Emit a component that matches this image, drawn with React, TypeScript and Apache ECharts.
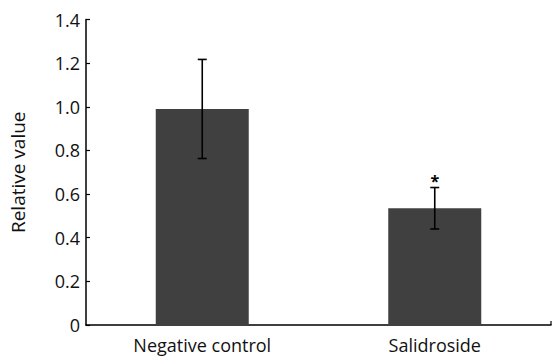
import React, { useEffect, useRef } from "react";
import * as echarts from "echarts";

const categories = ["Negative control", "Salidroside"];
const means = [0.99, 0.535];
const errors = [0.227, 0.095];
const significance = ["", "*"];
const yTicks = { min: 0, max: 1.4, interval: 0.2 };

export default function App() {
  const ref = useRef<HTMLDivElement>(null);
  useEffect(() => {
    if (!ref.current) return;
    const chart = echarts.init(ref.current, null, { renderer: "svg" });
    const W = 559, H = 359;
    const grid = { left: 85, right: 8, top: 19.5, bottom: 34 };
    const font = "'Open Sans', sans-serif";
    const errData = categories.map((c, i) => [i, means[i] - errors[i], means[i] + errors[i], significance[i]]);
    chart.setOption({
      animation: false,
      backgroundColor: "#fff",
      grid: { ...grid, containLabel: false },
      xAxis: {
        type: "category",
        data: categories,
        axisLine: { lineStyle: { color: "#000", width: 1.5 } },
        axisTick: { show: false },
        axisLabel: { color: "#111", fontSize: 18, fontFamily: font, margin: 11 },
      },
      yAxis: {
        type: "value",
        min: yTicks.min,
        max: yTicks.max,
        interval: yTicks.interval,
        name: "Relative value",
        nameLocation: "middle",
        nameGap: 59,
        nameTextStyle: { color: "#111", fontSize: 19, fontFamily: font },
        axisLine: { show: true, lineStyle: { color: "#000", width: 1.5 } },
        axisTick: { show: true, inside: true, length: 4, lineStyle: { color: "#000", width: 1.2 } },
        splitLine: { show: false },
        axisLabel: {
          color: "#111",
          fontSize: 18,
          fontFamily: font,
          margin: 6,
          formatter: (v: number) => (v === 0 ? "0" : v.toFixed(1)),
        },
      },
      graphic: [
        {
          type: "line",
          shape: { x1: W - grid.right, y1: H - grid.bottom, x2: W - grid.right, y2: H - grid.bottom - 4 },
          style: { stroke: "#000", lineWidth: 1.2 },
        },
      ],
      series: [
        {
          type: "bar",
          data: means,
          barWidth: "40%",
          itemStyle: { color: "#404040" },
        },
        {
          type: "custom",
          data: errData,
          z: 10,
          renderItem: (params: any, api: any) => {
            const x = api.value(0);
            const lo = api.coord([x, api.value(1)]);
            const hi = api.coord([x, api.value(2)]);
            const cap = 4.5;
            const style = { stroke: "#000", lineWidth: 1.6 };
            const sig = errData[params.dataIndex][3] as string;
            const children: any[] = [
              { type: "line", shape: { x1: hi[0], y1: hi[1], x2: lo[0], y2: lo[1] }, style },
              { type: "line", shape: { x1: hi[0] - cap, y1: hi[1], x2: hi[0] + cap, y2: hi[1] }, style },
              { type: "line", shape: { x1: lo[0] - cap, y1: lo[1], x2: lo[0] + cap, y2: lo[1] }, style },
            ];
            if (sig) {
              children.push({
                type: "text",
                style: {
                  text: sig,
                  x: hi[0],
                  y: hi[1] - 15,
                  fill: "#000",
                  font: `bold 16px ${font}`,
                  align: "center",
                  verticalAlign: "top",
                },
              });
            }
            return { type: "group", children };
          },
        },
      ],
    });
    return () => chart.dispose();
  }, []);
  return <div ref={ref} style={{ width: 559, height: 359, position: "absolute", left: 0, top: 0 }} />;
}
